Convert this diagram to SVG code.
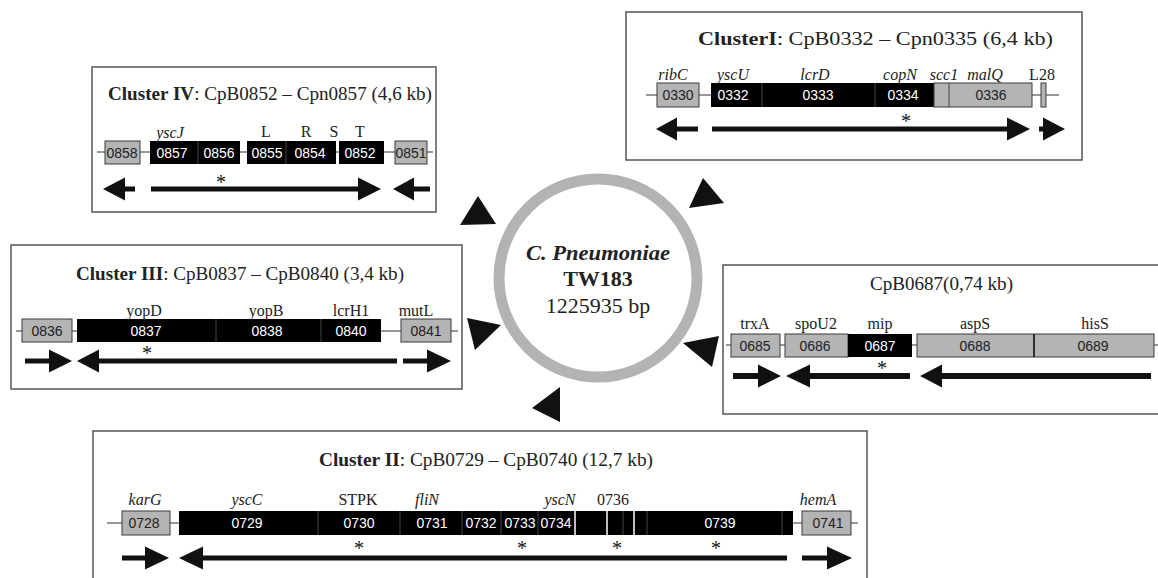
<svg xmlns="http://www.w3.org/2000/svg" width="1158" height="578" viewBox="0 0 1158 578">
<style>
.frame{fill:#fff;stroke:#555;stroke-width:1.5}
.ln{stroke:#333;stroke-width:1.2;fill:none}
.gr{fill:#b4b4b4;stroke:#3a3a3a;stroke-width:1}
.bk{fill:#000}
.dv{stroke:#444;stroke-width:1}
.wd{stroke:#fff;stroke-width:1.5}
.ar{fill:#111}
.num{font-family:"Liberation Sans",Arial,sans-serif;font-size:14px;text-anchor:middle;fill:#222}
.w{fill:#fff}
.lab{font-family:"Liberation Serif","Times New Roman",serif;font-size:16px;text-anchor:middle;fill:#222}
.it{font-style:italic}
.ttl{font-family:"Liberation Serif","Times New Roman",serif;font-size:19px;fill:#222}
.b{font-weight:bold}
.st{font-family:"Liberation Serif","Times New Roman",serif;font-size:20px;text-anchor:middle;fill:#111}
.ctr{font-family:"Liberation Serif","Times New Roman",serif;text-anchor:middle;fill:#222}
</style>
<rect width="1158" height="578" fill="#fff"/>

<g id="genome">
<circle cx="598" cy="278" r="99" fill="#fff" stroke="#b3b3b3" stroke-width="11"/>
<text class="ctr" x="598" y="260" font-size="20" font-style="italic" font-weight="bold" textLength="144" lengthAdjust="spacingAndGlyphs">C. Pneumoniae</text>
<text class="ctr" x="598" y="286" font-size="22" font-weight="bold">TW183</text>
<text class="ctr" x="598" y="313" font-size="22">1225935 bp</text>
</g>

<g id="connectors">
<polygon class="ar" points="478,196 460,225 496,224"/>
<polygon class="ar" points="703,178 689,208 724,203"/>
<polygon class="ar" points="467,318 475,350 501,325"/>
<polygon class="ar" points="719,336 683,343 712,367"/>
<polygon class="ar" points="560,387 532,408 560,422"/>
</g>

<g id="cluster4">
<rect class="frame" x="92" y="67" width="344" height="145"/>
<text class="ttl" x="108" y="100" textLength="324" lengthAdjust="spacingAndGlyphs"><tspan class="b">Cluster IV</tspan>: CpB0852 – Cpn0857 (4,6 kb)</text>
<line class="ln" x1="97" y1="152" x2="433" y2="152"/>
<rect class="gr" x="105" y="141" width="35" height="23"/>
<rect class="bk" x="150" y="141" width="90" height="23"/>
<rect class="bk" x="247" y="141" width="89" height="23"/>
<rect class="bk" x="339" y="141" width="45" height="23"/>
<line class="dv" x1="198" y1="141" x2="198" y2="164"/>
<line class="dv" x1="286" y1="141" x2="286" y2="164"/>
<rect class="gr" x="395" y="141" width="32" height="23"/>
<text class="num" x="122" y="157.5">0858</text>
<text class="num w" x="172" y="157.5">0857</text>
<text class="num w" x="219" y="157.5">0856</text>
<text class="num w" x="267" y="157.5">0855</text>
<text class="num w" x="310" y="157.5">0854</text>
<text class="num w" x="360" y="157.5">0852</text>
<text class="num" x="411" y="157.5">0851</text>
<text class="lab it" x="170" y="138">yscJ</text>
<text class="lab" x="266" y="137">L</text>
<text class="lab" x="306" y="137">R</text>
<text class="lab" x="334" y="137">S</text>
<text class="lab" x="360" y="137">T</text>
<path class="ar" d="M135,186.5H125V177.5L103,189L125,200.5V191.5H135Z"/>
<path class="ar" d="M151,186.5H358V177.5L381,189L358,200.5V191.5H151Z"/>
<path class="ar" d="M430,186.5H414V177.5L393,189L414,200.5V191.5H430Z"/>
<text class="st" x="221" y="189">*</text>
</g>

<g id="cluster1">
<rect class="frame" x="626" y="12" width="456" height="148"/>
<text class="ttl" x="698" y="45" textLength="355" lengthAdjust="spacingAndGlyphs"><tspan class="b">ClusterI</tspan>: CpB0332 – Cpn0335 (6,4 kb)</text>
<line class="ln" x1="646" y1="95" x2="1059" y2="95"/>
<rect class="gr" x="657" y="83" width="42" height="24"/>
<rect class="bk" x="711" y="83" width="223" height="24"/>
<line class="dv" x1="762" y1="83" x2="762" y2="107"/>
<line class="dv" x1="875" y1="83" x2="875" y2="107"/>
<rect class="gr" x="934" y="83" width="98" height="24"/>
<line class="dv" x1="949" y1="83" x2="949" y2="107"/>
<rect class="gr" x="1041" y="83" width="5" height="24"/>
<text class="num" x="678" y="100">0330</text>
<text class="num w" x="733" y="100">0332</text>
<text class="num w" x="818" y="100">0333</text>
<text class="num w" x="903" y="100">0334</text>
<text class="num" x="991" y="100">0336</text>
<text class="lab it" x="673" y="80">ribC</text>
<text class="lab it" x="733" y="80">yscU</text>
<text class="lab it" x="815" y="80">lcrD</text>
<text class="lab it" x="900" y="80">copN</text>
<text class="lab it" x="944" y="80">scc1</text>
<text class="lab it" x="985" y="80">malQ</text>
<text class="lab" x="1042" y="80">L28</text>
<path class="ar" d="M698,126.5H677V117.5L656,129L677,140.5V131.5H698Z"/>
<path class="ar" d="M712,126.5H1007V117.5L1030,129L1007,140.5V131.5H712Z"/>
<path class="ar" d="M1039,126.5H1043V117.5L1065,129L1043,140.5V131.5H1039Z"/>
<text class="st" x="906" y="128">*</text>
</g>

<g id="cluster3">
<rect class="frame" x="11" y="245" width="451" height="144"/>
<text class="ttl" x="76" y="280" textLength="328" lengthAdjust="spacingAndGlyphs"><tspan class="b">Cluster III</tspan>: CpB0837 – CpB0840 (3,4 kb)</text>
<line class="ln" x1="16" y1="331" x2="458" y2="331"/>
<rect class="gr" x="22" y="319" width="50" height="23"/>
<rect class="bk" x="77" y="319" width="304" height="23"/>
<line class="dv" x1="216" y1="319" x2="216" y2="342"/>
<line class="dv" x1="321" y1="319" x2="321" y2="342"/>
<rect class="gr" x="401" y="319" width="50" height="23"/>
<text class="num" x="47" y="336">0836</text>
<text class="num w" x="146" y="336">0837</text>
<text class="num w" x="267" y="336">0838</text>
<text class="num w" x="351" y="336">0840</text>
<text class="num" x="426" y="336">0841</text>
<text class="lab" x="144" y="316">yopD</text>
<text class="lab" x="266" y="316">yopB</text>
<text class="lab" x="351" y="316">lcrH1</text>
<text class="lab" x="416" y="316">mutL</text>
<path class="ar" d="M25,358.5H49V349.5L72,361L49,372.5V363.5H25Z"/>
<path class="ar" d="M397,358.5H99V349.5L77,361L99,372.5V363.5H397Z"/>
<path class="ar" d="M403,358.5H427V349.5L451,361L427,372.5V363.5H403Z"/>
<text class="st" x="147" y="360">*</text>
</g>

<g id="cpb0687">
<rect class="frame" x="723" y="265" width="450" height="149"/>
<text class="ttl" x="870" y="290" textLength="143" lengthAdjust="spacingAndGlyphs">CpB0687(0,74 kb)</text>
<line class="ln" x1="726" y1="345" x2="1158" y2="345"/>
<rect class="gr" x="731" y="334" width="49" height="23"/>
<rect class="gr" x="785" y="334" width="63" height="23"/>
<rect class="bk" x="848" y="334" width="64" height="23"/>
<rect class="gr" x="917" y="334" width="237" height="23"/>
<line x1="1034" y1="334" x2="1034" y2="357" stroke="#222" stroke-width="1.8"/>
<text class="num" x="755" y="350.5">0685</text>
<text class="num" x="815" y="350.5">0686</text>
<text class="num w" x="880" y="350.5">0687</text>
<text class="num" x="975" y="350.5">0688</text>
<text class="num" x="1093" y="350.5">0689</text>
<text class="lab" x="755" y="329">trxA</text>
<text class="lab" x="816" y="329">spoU2</text>
<text class="lab" x="880" y="329">mip</text>
<text class="lab" x="975" y="329">aspS</text>
<text class="lab" x="1095" y="329">hisS</text>
<path class="ar" d="M733,373H758V364.5L781,376L758,387.5V379H733Z"/>
<path class="ar" d="M910,373H810V364.5L786,376L810,387.5V379H910Z"/>
<path class="ar" d="M1151,373H942V364.5L920,376L942,387.5V379H1151Z"/>
<text class="st" x="882" y="375">*</text>
</g>

<g id="cluster2">
<rect class="frame" x="93" y="431" width="774" height="160"/>
<text class="ttl" x="319" y="466" textLength="334" lengthAdjust="spacingAndGlyphs"><tspan class="b">Cluster II</tspan>: CpB0729 – CpB0740 (12,7 kb)</text>
<line class="ln" x1="107" y1="523" x2="858" y2="523"/>
<rect class="gr" x="122" y="511" width="48" height="24"/>
<rect class="bk" x="179" y="511" width="614" height="24"/>
<line class="dv" x1="318" y1="511" x2="318" y2="535"/>
<line class="dv" x1="400" y1="511" x2="400" y2="535"/>
<line class="dv" x1="462" y1="511" x2="462" y2="535"/>
<line class="dv" x1="501" y1="511" x2="501" y2="535"/>
<line class="dv" x1="538" y1="511" x2="538" y2="535"/>
<line class="wd" x1="575" y1="511" x2="575" y2="535"/>
<line class="wd" x1="607" y1="511" x2="607" y2="535"/>
<line class="dv" x1="623" y1="511" x2="623" y2="535"/>
<line class="wd" x1="634" y1="511" x2="634" y2="535"/>
<line class="dv" x1="647" y1="511" x2="647" y2="535"/>
<line class="dv" x1="782" y1="511" x2="782" y2="535"/>
<rect class="gr" x="802" y="511" width="49" height="24"/>
<text class="num" x="144" y="528">0728</text>
<text class="num w" x="247" y="528">0729</text>
<text class="num w" x="359" y="528">0730</text>
<text class="num w" x="432" y="528">0731</text>
<text class="num w" x="481" y="528">0732</text>
<text class="num w" x="520" y="528">0733</text>
<text class="num w" x="556" y="528">0734</text>
<text class="num w" x="720" y="528">0739</text>
<text class="num" x="828" y="528">0741</text>
<text class="lab it" x="145" y="505">karG</text>
<text class="lab it" x="247" y="505">yscC</text>
<text class="lab" x="358" y="505">STPK</text>
<text class="lab it" x="427" y="505">fliN</text>
<text class="lab it" x="560" y="505">yscN</text>
<text class="lab" x="613" y="505">0736</text>
<text class="lab it" x="818" y="505">hemA</text>
<path class="ar" d="M122,555.5H145V546.5L169,558L145,569.5V560.5H122Z"/>
<path class="ar" d="M787,555.5H203V546.5L179,558L203,569.5V560.5H787Z"/>
<path class="ar" d="M802,555.5H827V546.5L852,558L827,569.5V560.5H802Z"/>
<text class="st" x="359" y="555">*</text>
<text class="st" x="522" y="555">*</text>
<text class="st" x="617" y="555">*</text>
<text class="st" x="716" y="555">*</text>
</g>
</svg>
